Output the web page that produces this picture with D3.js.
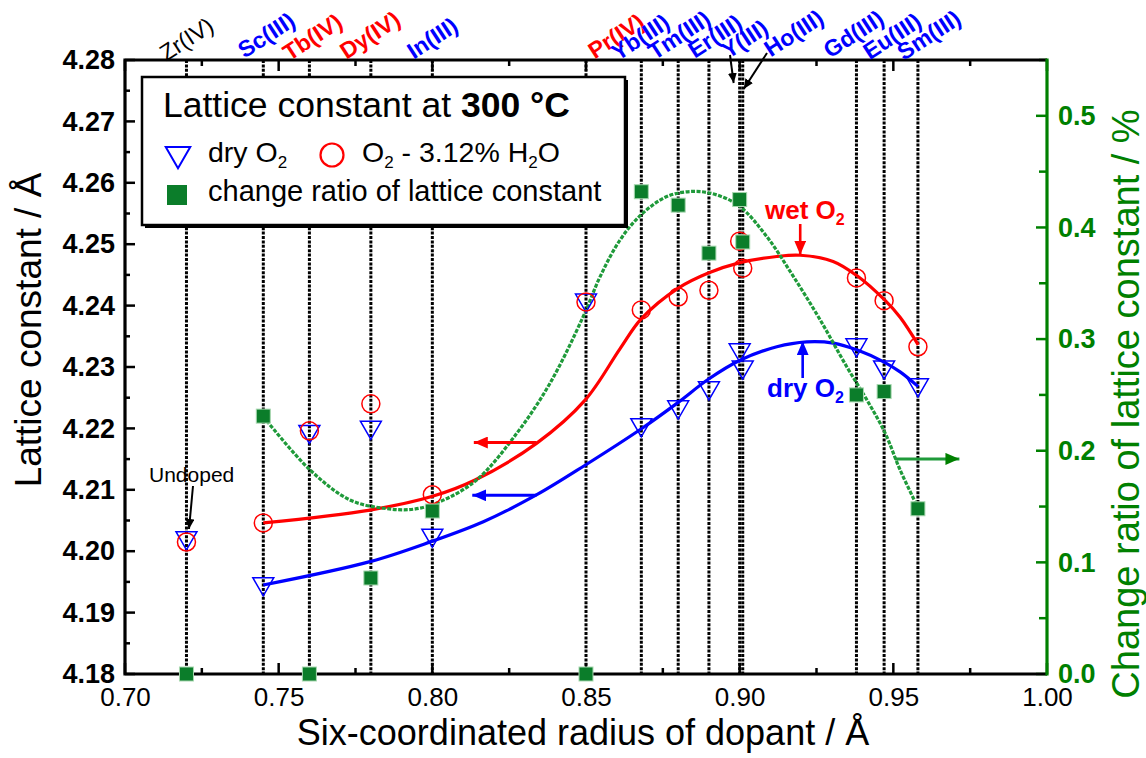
<!DOCTYPE html>
<html><head><meta charset="utf-8">
<script src="https://cdn.jsdelivr.net/npm/d3@7"></script>
<style>
body{margin:0;background:#fff}
svg{display:block;font-family:"Liberation Sans",Arial,sans-serif}
</style>
</head><body>
<svg id="chart" width="1146" height="758"></svg>
<script>
// ---------------- data ----------------
const dopants = ["Zr(IV)","Sc(III)","Tb(IV)","Dy(IV)","In(III)","Pr(IV)","Yb(III)","Tm(III)","Er(III)","Y(III)","Ho(III)","Gd(III)","Eu(III)","Sm(III)"];
const radii = [0.720,0.745,0.760,0.780,0.800,0.850,0.868,0.880,0.890,0.900,0.901,0.938,0.947,0.958];
const labelColors = ["black","blue","red","red","blue","red","blue","blue","blue","blue","blue","blue","blue","blue"];
const dryO2 = [4.2022,4.1947,4.2195,4.2202,4.2026,4.2409,4.2206,4.2235,4.2266,4.2328,4.2300,4.2336,4.2300,4.2271];
const wetO2 = [4.2015,4.2046,4.2196,4.2240,4.2092,4.2406,4.2393,4.2414,4.2425,4.2505,4.2461,4.2445,4.2408,4.2333];
const changeRatio = [0.000,0.231,0.000,0.086,0.146,0.000,0.432,0.420,0.377,0.425,0.387,0.250,0.253,0.148];

// fitted guide curves
const wetFitX = [0.745,0.7797,0.7998,0.8139,0.834,0.8497,0.8611,0.8679,0.8799,0.8898,0.9001,0.9121,0.9197,0.9304,0.9381,0.947,0.9522,0.9581];
const wetFitY = [4.2046,4.2067,4.2089,4.2116,4.2176,4.2246,4.2330,4.2378,4.2428,4.2453,4.2470,4.2480,4.2482,4.2472,4.2449,4.2410,4.2381,4.2336];
const dryFitX = [0.745,0.7797,0.7998,0.8166,0.834,0.8497,0.8679,0.8799,0.8898,0.9001,0.9121,0.9218,0.9305,0.9381,0.947,0.9522,0.9581];
const dryFitY = [4.1945,4.1983,4.2016,4.2048,4.2092,4.2140,4.2199,4.2242,4.2280,4.2311,4.2333,4.2341,4.2339,4.2328,4.2308,4.2292,4.2268];
const ratioFitX = [0.745,0.7602,0.7732,0.7841,0.7938,0.8025,0.8144,0.8275,0.8383,0.8491,0.8546,0.8611,0.8679,0.8763,0.8849,0.8925,0.9001,0.9088,0.9175,0.9262,0.9348,0.9414,0.9473,0.9522,0.9581];
const ratioFitY = [0.2306,0.1828,0.1559,0.1485,0.1476,0.1544,0.1738,0.2157,0.2605,0.3202,0.356,0.3889,0.4113,0.4277,0.4323,0.4292,0.4187,0.3919,0.356,0.3172,0.2754,0.2455,0.2160,0.1828,0.1485];

// tick values
const xTicks = [0.70,0.75,0.80,0.85,0.90,0.95,1.00];
const yTicks = [4.18,4.19,4.20,4.21,4.22,4.23,4.24,4.25,4.26,4.27,4.28];
const y2Ticks = [0.0,0.1,0.2,0.3,0.4,0.5];

// ---------------- layout ----------------
const W = 1146, H = 758;
const L = 125, R = 1047, T = 60, B = 674;
const labelShift = [0,3,3,-1,0,30,-1,1,6,5,51,-3,8,11]; // horizontal shift of rotated top labels
const labelY = [39,35,37,35,38,36,37,35,36,39,33,34,36,35];

const svg = d3.select("#chart");
const x = d3.scaleLinear().domain([0.70,1.00]).range([L,R]);
const y = d3.scaleLinear().domain([4.18,4.28]).range([B,T]);
const y2 = d3.scaleLinear().domain([0,0.55]).range([B,T]);

const RED = "#ff0000", BLUE = "#0000ff", GREEN = "#008000", GDASH = "#1f9a3a", GSQ = "#0b7d2a";

// arrow markers
const defs = svg.append("defs");
function mk(id, color, len, wid){
  defs.append("marker").attr("id",id).attr("viewBox",`0 0 ${len} ${wid}`)
    .attr("refX",len).attr("refY",wid/2).attr("markerWidth",len).attr("markerHeight",wid)
    .attr("markerUnits","userSpaceOnUse").attr("orient","auto")
    .append("path").attr("d",`M0,0L${len},${wid/2}L0,${wid}Z`).attr("fill",color);
}
mk("aR",RED,14,12); mk("aB",BLUE,14,12); mk("aG",GREEN,14,12); mk("aK","black",10,9);

// vertical dotted reference lines
svg.append("g").selectAll("line").data(radii).join("line")
  .attr("x1",d=>x(d)).attr("x2",d=>x(d)).attr("y1",T).attr("y2",B)
  .attr("stroke","#000").attr("stroke-width",3).attr("stroke-dasharray","3,1.4");

// minor/major ticks (inward)
const gAx = svg.append("g");
const xMinor = d3.range(0,13).map(i=>0.70+i*0.025);
xMinor.forEach((v,i)=>{
  const len = i%2===0?11:6;
  gAx.append("line").attr("x1",x(v)).attr("x2",x(v)).attr("y1",B).attr("y2",B-len).attr("stroke","#000").attr("stroke-width",2.5);
  gAx.append("line").attr("x1",x(v)).attr("x2",x(v)).attr("y1",T).attr("y2",T+len).attr("stroke","#000").attr("stroke-width",2.5);
});
const yMinor = d3.range(0,21).map(i=>4.18+i*0.005);
yMinor.forEach((v,i)=>{
  const len = i%2===0?10:5;
  gAx.append("line").attr("x1",L).attr("x2",L+len).attr("y1",y(v)).attr("y2",y(v)).attr("stroke","#000").attr("stroke-width",2.5);
});
const y2Minor = d3.range(0,12).map(i=>i*0.05);
y2Minor.forEach((v,i)=>{
  const len = i%2===0?11:8;
  gAx.append("line").attr("x1",R).attr("x2",R-len).attr("y1",y2(v)).attr("y2",y2(v)).attr("stroke",GREEN).attr("stroke-width",2.5);
});

// axis frame
gAx.append("path").attr("d",`M${R},${T}H${L}V${B}H${R}`).attr("fill","none").attr("stroke","#000").attr("stroke-width",3.2);
gAx.append("line").attr("x1",R).attr("x2",R).attr("y1",T-1.5).attr("y2",B+1.5).attr("stroke",GREEN).attr("stroke-width",3.2);

// tick labels via d3 axes (lines hidden)
const axB = svg.append("g").attr("transform",`translate(0,${B})`)
  .call(d3.axisBottom(x).tickValues(xTicks).tickSize(0).tickPadding(14).tickFormat(d3.format(".2f")));
axB.select(".domain").remove();
axB.selectAll("text").attr("font-size",26).attr("fill","#000").attr("font-family","Liberation Sans, Arial");

const axL = svg.append("g").attr("transform",`translate(${L},0)`)
  .call(d3.axisLeft(y).tickValues(yTicks).tickSize(0).tickPadding(10).tickFormat(d3.format(".2f")));
axL.select(".domain").remove();
axL.selectAll("text").attr("font-size",27).attr("font-weight","bold").attr("fill","#000").attr("font-family","Liberation Sans, Arial");

const axR = svg.append("g").attr("transform",`translate(${R},0)`)
  .call(d3.axisRight(y2).tickValues(y2Ticks).tickSize(0).tickPadding(11).tickFormat(d3.format(".1f")));
axR.select(".domain").remove();
axR.selectAll("text").attr("font-size",27).attr("font-weight","bold").attr("fill",GREEN).attr("font-family","Liberation Sans, Arial");

// axis titles
svg.append("text").attr("x",583).attr("y",745).attr("text-anchor","middle")
  .attr("font-size",36).text("Six-coordinated radius of dopant / Å");
svg.append("text").attr("transform","translate(41,330) rotate(-90)").attr("text-anchor","middle")
  .attr("font-size",37).text("Lattice constant / Å");
svg.append("text").attr("transform","translate(1139,404) rotate(-90)").attr("text-anchor","middle")
  .attr("font-size",38).attr("fill",GREEN).text("Change ratio of lattice constant / %");

// rotated dopant labels
svg.append("g").selectAll("text").data(dopants).join("text")
  .attr("transform",(d,i)=>`translate(${x(radii[i])+labelShift[i]},${labelY[i]}) rotate(-33)`)
  .attr("text-anchor","middle").attr("dy","0.35em")
  .attr("font-size",23).attr("font-weight",(d,i)=>i===0?"normal":"bold")
  .attr("fill",(d,i)=>labelColors[i]).text(d=>d);

// label arrows for Y and Ho
svg.append("line").attr("x1",730).attr("y1",55).attr("x2",x(radii[9])-6).attr("y2",83)
  .attr("stroke","#000").attr("stroke-width",2).attr("marker-end","url(#aK)");
svg.append("line").attr("x1",767).attr("y1",53).attr("x2",x(radii[10])+1).attr("y2",89)
  .attr("stroke","#000").attr("stroke-width",2).attr("marker-end","url(#aK)");

// fitted curves
const ln = d3.line().curve(d3.curveCatmullRom.alpha(0.5));
svg.append("path").attr("d",ln(wetFitX.map((v,i)=>[x(v),y(wetFitY[i])])))
  .attr("fill","none").attr("stroke",RED).attr("stroke-width",3.2);
svg.append("path").attr("d",ln(dryFitX.map((v,i)=>[x(v),y(dryFitY[i])])))
  .attr("fill","none").attr("stroke",BLUE).attr("stroke-width",3.2);
svg.append("path").attr("d",ln(ratioFitX.map((v,i)=>[x(v),y2(ratioFitY[i])])))
  .attr("fill","none").attr("stroke",GDASH).attr("stroke-width",3.2).attr("stroke-dasharray","4,1.5");

// markers
const tri = d3.symbol().type(d3.symbolTriangle).size(190);
svg.append("g").selectAll("path").data(dryO2).join("path")
  .attr("transform",(d,i)=>`translate(${x(radii[i])},${y(d)}) rotate(180)`)
  .attr("d",tri).attr("fill","none").attr("stroke",BLUE).attr("stroke-width",1.5);
svg.append("g").selectAll("circle").data(wetO2).join("circle")
  .attr("cx",(d,i)=>x(radii[i])).attr("cy",d=>y(d)).attr("r",9)
  .attr("fill","none").attr("stroke",RED).attr("stroke-width",1.5);
svg.append("g").selectAll("rect").data(changeRatio).join("rect")
  .attr("x",(d,i)=>x(radii[i])-7).attr("y",d=>y2(d)-7).attr("width",14).attr("height",14)
  .attr("fill",GSQ).attr("stroke","#a8d8b0").attr("stroke-width",1);

// direction arrows
svg.append("line").attr("x1",x(0.8339)).attr("x2",x(0.8135)).attr("y1",y(4.2177)).attr("y2",y(4.2177))
  .attr("stroke",RED).attr("stroke-width",3).attr("marker-end","url(#aR)");
svg.append("line").attr("x1",x(0.8339)).attr("x2",x(0.8130)).attr("y1",y(4.2091)).attr("y2",y(4.2091))
  .attr("stroke",BLUE).attr("stroke-width",3).attr("marker-end","url(#aB)");
svg.append("line").attr("x1",x(0.9505)).attr("x2",x(0.9715)).attr("y1",y2(0.1927)).attr("y2",y2(0.1927))
  .attr("stroke",GDASH).attr("stroke-width",3).attr("marker-end","url(#aG)");

// wet / dry annotations
const wetT = svg.append("text").attr("x",765).attr("y",219).attr("font-size",26).attr("font-weight","bold").attr("fill",RED);
wetT.append("tspan").text("wet O");
wetT.append("tspan").attr("font-size",16).attr("dy",6).text("2");
svg.append("line").attr("x1",x(0.9197)).attr("x2",x(0.9197)).attr("y1",224).attr("y2",y(4.2483))
  .attr("stroke",RED).attr("stroke-width",2.6).attr("marker-end","url(#aR)");
const dryT = svg.append("text").attr("x",767).attr("y",397).attr("font-size",26).attr("font-weight","bold").attr("fill",BLUE);
dryT.append("tspan").text("dry O");
dryT.append("tspan").attr("font-size",16).attr("dy",6).text("2");
svg.append("line").attr("x1",x(0.9205)).attr("x2",x(0.9205)).attr("y1",378).attr("y2",y(4.2342))
  .attr("stroke",BLUE).attr("stroke-width",2.6).attr("marker-end","url(#aB)");

// Undoped
svg.append("text").attr("x",149).attr("y",482).attr("font-size",21).attr("fill","#000").text("Undoped");
svg.append("line").attr("x1",193).attr("y1",486).attr("x2",189).attr("y2",529)
  .attr("stroke","#000").attr("stroke-width",2).attr("marker-end","url(#aK)");

// legend
const lg = svg.append("g");
lg.append("rect").attr("x",145).attr("y",80).attr("width",483).attr("height",148).attr("fill","#000");
lg.append("rect").attr("x",142).attr("y",77).attr("width",483).attr("height",148).attr("fill","#fff").attr("stroke","#000").attr("stroke-width",2.5);
const lt = lg.append("text").attr("x",163).attr("y",117).attr("font-size",35.5).attr("fill","#000");
lt.append("tspan").text("Lattice constant at ");
lt.append("tspan").attr("font-weight","bold").text("300 °C");
lg.append("path").attr("transform","translate(178,154) rotate(180)")
  .attr("d",d3.symbol().type(d3.symbolTriangle).size(260)).attr("fill","none").attr("stroke",BLUE).attr("stroke-width",2);
const l1 = lg.append("text").attr("x",208).attr("y",162).attr("font-size",28.5).attr("fill","#000");
l1.append("tspan").text("dry O"); l1.append("tspan").attr("font-size",17).attr("dy",6).text("2");
lg.append("circle").attr("cx",332).attr("cy",155).attr("r",11.5).attr("fill","none").attr("stroke",RED).attr("stroke-width",2.2);
const l2 = lg.append("text").attr("x",362).attr("y",162).attr("font-size",28.5).attr("fill","#000");
l2.append("tspan").text("O"); l2.append("tspan").attr("font-size",17).attr("dy",6).text("2");
l2.append("tspan").attr("dy",-6).text(" - 3.12% H"); l2.append("tspan").attr("font-size",17).attr("dy",6).text("2");
l2.append("tspan").attr("dy",-6).text("O");
lg.append("rect").attr("x",167).attr("y",185).attr("width",20).attr("height",20).attr("fill",GSQ);
lg.append("text").attr("x",208).attr("y",201).attr("font-size",29).attr("fill","#000").text("change ratio of lattice constant");
</script>
</body></html>
